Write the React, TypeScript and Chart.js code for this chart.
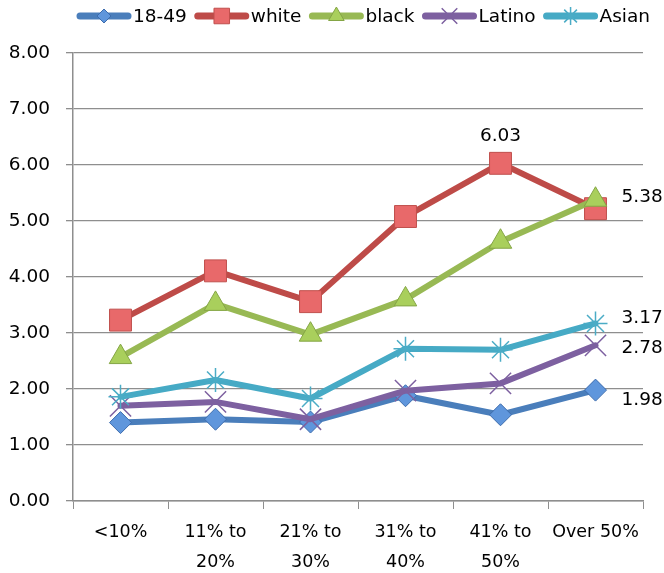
import React, { useEffect, useRef } from 'react';
import { Chart, registerables } from 'chart.js';
import { drawPoint } from 'chart.js/helpers';

Chart.register(...registerables);

const categories: string[][] = [['<10%'], ['11% to', '20%'], ['21% to', '30%'], ['31% to', '40%'], ['41% to', '50%'], ['Over 50%']];
const seriesNames = ['18-49', 'white', 'black', 'Latino', 'Asian'];
const values1849 = [1.40, 1.46, 1.41, 1.88, 1.54, 1.98];
const valuesWhite = [3.23, 4.11, 3.56, 5.08, 6.03, 5.22];
const valuesBlack = [2.57, 3.52, 2.97, 3.60, 4.63, 5.38];
const valuesLatino = [1.70, 1.77, 1.46, 1.97, 2.10, 2.78];
const valuesAsian = [1.86, 2.16, 1.83, 2.72, 2.70, 3.17];
const yMin = 0;
const yMax = 8;
const yStep = 1;
// which points carry a value label: [series index, point index, placement]
const labelledPoints: [number, number, string][] = [[1, 4, 'top'], [2, 5, 'right'], [4, 5, 'right'], [3, 5, 'right'], [0, 5, 'right']];

const FONT = '"DejaVu Sans", sans-serif';

const styles = [
  { line: '#4a7ebb', fill: '#5f96dc', border: '#3d6cad', point: 'rectRot', radius: 11, legendRadius: 7, bw: 1 },
  { line: '#be4b48', fill: '#e8696a', border: '#c0504d', point: 'rect', radius: 15.5, legendRadius: 11, bw: 1 },
  { line: '#98b954', fill: '#a9cf5c', border: '#84a545', point: 'triangle', radius: 13, legendRadius: 9, bw: 1 },
  { line: '#7d60a0', fill: 'rgba(0,0,0,0)', border: '#7d60a0', point: 'crossRot', radius: 15, legendRadius: 11, bw: 1.5 },
  { line: '#46aac5', fill: 'rgba(0,0,0,0)', border: '#4bacc6', point: 'star', radius: 12, legendRadius: 9, bw: 1.5 },
];

const labelOffsets: Record<string, [number, number]> = {
  '1-4': [0, -27],
  '2-5': [26, -3],
  '4-5': [26, -5],
  '3-5': [26, 3],
  '0-5': [26, 10],
};

export default function App() {
  const ref = useRef<HTMLCanvasElement | null>(null);
  useEffect(() => {
    if (!ref.current) return;
    const allValues = [values1849, valuesWhite, valuesBlack, valuesLatino, valuesAsian];

    const legendPlugin = {
      id: 'customLegend',
      afterDraw(chart: any) {
        const ctx = chart.ctx;
        ctx.save();
        ctx.font = `18.5px ${FONT}`;
        ctx.textBaseline = 'middle';
        let x = 77;
        const y = 16;
        seriesNames.forEach((name, i) => {
          const s = styles[i];
          ctx.strokeStyle = s.line;
          ctx.lineWidth = 7;
          ctx.lineCap = 'round';
          ctx.beginPath();
          ctx.moveTo(x + 3, y);
          ctx.lineTo(x + 51, y);
          ctx.stroke();
          ctx.fillStyle = s.fill;
          ctx.strokeStyle = s.border;
          ctx.lineWidth = s.bw;
          ctx.lineCap = 'butt';
          drawPoint(ctx, { pointStyle: s.point, rotation: 0, radius: s.legendRadius, borderWidth: s.bw } as any, x + 27, y);
          ctx.fillStyle = '#000';
          ctx.textAlign = 'left';
          ctx.fillText(name, x + 56, y + 1);
          x += 56 + ctx.measureText(name).width + 8;
        });
        ctx.restore();
      },
    };

    const labelPlugin = {
      id: 'valueLabels',
      afterDatasetsDraw(chart: any) {
        const ctx = chart.ctx;
        ctx.save();
        ctx.font = `18.5px ${FONT}`;
        ctx.fillStyle = '#000';
        ctx.textBaseline = 'middle';
        labelledPoints.forEach(([si, pi, place]) => {
          const el = chart.getDatasetMeta(si).data[pi];
          const v = allValues[si][pi];
          const off = labelOffsets[`${si}-${pi}`] || [0, 0];
          ctx.textAlign = place === 'top' ? 'center' : 'left';
          ctx.fillText(v.toFixed(2), el.x + off[0], el.y + off[1]);
        });
        ctx.restore();
      },
    };

    const chart = new Chart(ref.current, {
      type: 'line',
      data: {
        labels: categories,
        datasets: allValues.map((vals, i) => ({
          label: seriesNames[i],
          data: vals,
          borderColor: styles[i].line,
          borderWidth: 6,
          borderJoinStyle: 'round',
          borderCapStyle: 'round',
          pointStyle: styles[i].point,
          pointRadius: styles[i].radius,
          pointBackgroundColor: styles[i].fill,
          pointBorderColor: styles[i].border,
          pointBorderWidth: styles[i].bw,
          tension: 0,
          fill: false,
          order: 5 - i,
        })),
      },
      options: {
        animation: false,
        responsive: true,
        maintainAspectRatio: false,
        devicePixelRatio: 1,
        layout: { padding: { top: 53, right: 21, left: 0, bottom: 0 } },
        plugins: { legend: { display: false }, tooltip: { enabled: false } },
        scales: {
          x: {
            offset: true,
            grid: { display: true, drawOnChartArea: false, drawTicks: true, tickLength: 8, color: '#8e8e8e', offset: true },
            border: { display: true, color: '#8e8e8e', width: 1.5 },
            ticks: { color: '#000', font: { family: FONT, size: 17.5, lineHeight: 1.7 }, padding: 9, maxRotation: 0, autoSkip: false },
            afterFit: (s: any) => { s.height = 72; },
          },
          y: {
            min: yMin,
            max: yMax,
            grid: { color: '#8e8e8e', lineWidth: 1.3, tickLength: 7 },
            border: { display: true, color: '#8e8e8e', width: 1.5 },
            ticks: { stepSize: yStep, color: '#000', font: { family: FONT, size: 18.5 }, padding: 16, callback: (v: any) => Number(v).toFixed(2) },
            afterFit: (s: any) => { s.width = 73; },
          },
        },
      },
      plugins: [legendPlugin, labelPlugin],
    } as any);
    return () => chart.destroy();
  }, []);
  return (
    <div style={{ position: 'absolute', left: 0, top: 0, width: 664, height: 573, background: '#fff' }}>
      <canvas ref={ref} />
    </div>
  );
}
